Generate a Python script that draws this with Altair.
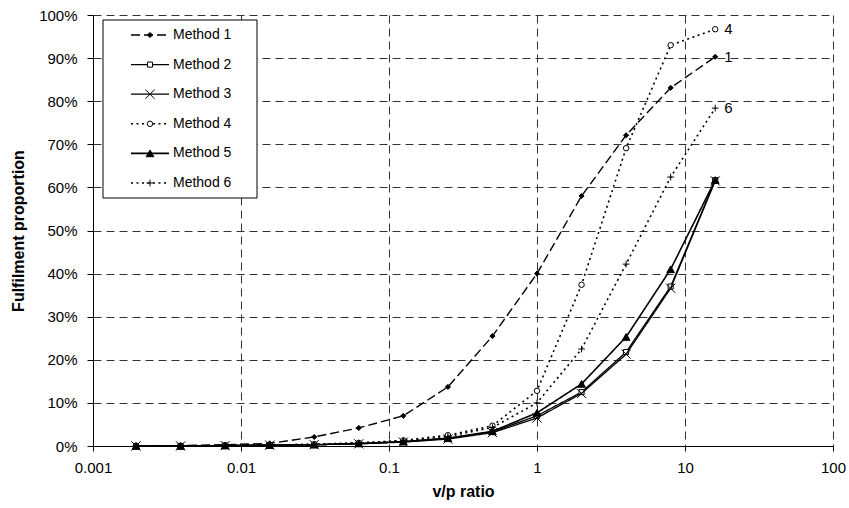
import altair as alt
import pandas as pd

# v/p ratios (powers of two from 1/512 up to 16)
ratios = [1/512, 1/256, 1/128, 1/64, 1/32, 1/16, 1/8, 1/4, 1/2, 1, 2, 4, 8, 16]

method_names = ["Method 1", "Method 2", "Method 3", "Method 4", "Method 5", "Method 6"]

# fulfilment proportion per method, one value per ratio
m1 = [0.000, 0.001, 0.003, 0.006, 0.021, 0.042, 0.070, 0.137, 0.255, 0.400, 0.580, 0.721, 0.831, 0.903]
m2 = [0.000, 0.000, 0.001, 0.002, 0.003, 0.005, 0.010, 0.018, 0.033, 0.070, 0.125, 0.218, 0.370, 0.617]
m3 = [0.000, 0.000, 0.001, 0.002, 0.003, 0.005, 0.009, 0.016, 0.031, 0.065, 0.122, 0.213, 0.366, 0.615]
m4 = [0.000, 0.000, 0.001, 0.002, 0.004, 0.007, 0.013, 0.025, 0.047, 0.128, 0.374, 0.691, 0.930, 0.967]
m5 = [0.000, 0.000, 0.001, 0.002, 0.003, 0.006, 0.010, 0.018, 0.034, 0.077, 0.144, 0.253, 0.410, 0.617]
m6 = [0.000, 0.000, 0.001, 0.002, 0.004, 0.007, 0.012, 0.022, 0.043, 0.100, 0.225, 0.422, 0.624, 0.784]
series = [m1, m2, m3, m4, m5, m6]

# short labels written next to the last point of some series
end_labels = {"Method 1": "1", "Method 4": "4", "Method 6": "6"}

x_ticks = [0.001, 0.01, 0.1, 1, 10, 100]
y_ticks = [i / 10 for i in range(11)]

FONT = "Liberation Sans"

PLUS = "M-1,0L1,0M0,-1L0,1"
CROSS = "M-1,-1L1,1M-1,1L1,-1"

# line and marker style per method
styles = {
    "Method 1": dict(dash=[9, 4], width=1.4, shape="diamond", size=26, fill="black"),
    "Method 2": dict(dash=[1, 0], width=1.3, shape="square", size=26, fill="white"),
    "Method 3": dict(dash=[1, 0], width=1.3, shape=CROSS, size=85, fill=None),
    "Method 4": dict(dash=[2, 3.5], width=1.6, shape="circle", size=30, fill="white"),
    "Method 5": dict(dash=[1, 0], width=1.6, shape="triangle-up", size=60, fill="black"),
    "Method 6": dict(dash=[2, 3.5], width=1.6, shape=PLUS, size=45, fill=None),
}

rows = []
for name, vals in zip(method_names, series):
    for r, v in zip(ratios, vals):
        rows.append({"method": name, "ratio": r, "value": v})
df = pd.DataFrame(rows)

x_enc = alt.X(
    "ratio:Q",
    scale=alt.Scale(type="log", domain=[0.001, 100]),
    axis=alt.Axis(values=x_ticks, format=".3~f", title="v/p ratio", labelFlush=False),
)
y_enc = alt.Y(
    "value:Q",
    scale=alt.Scale(domain=[0, 1]),
    axis=alt.Axis(values=y_ticks, format=".0%", title="Fulfilment proportion", labelFlush=False),
)


def point_props(st):
    if st["fill"] is None:
        return dict(shape=st["shape"], size=st["size"], filled=False,
                    stroke="black", strokeWidth=1, opacity=1)
    return dict(shape=st["shape"], size=st["size"], filled=True,
                fill=st["fill"], stroke="black", strokeWidth=1, opacity=1)


layers = []
for name in method_names:
    st = styles[name]
    base = alt.Chart(df).transform_filter(alt.datum.method == name)
    layers.append(base.mark_line(color="black", strokeDash=st["dash"], strokeWidth=st["width"])
                  .encode(x=x_enc, y=y_enc))
    layers.append(base.mark_point(**point_props(st)).encode(x=x_enc, y=y_enc))

# numbers at the right-hand end of selected series
end_df = df[df["ratio"] == ratios[-1]].copy()
end_df = end_df[end_df["method"].isin(end_labels)]
end_df["label"] = end_df["method"].map(end_labels)
layers.append(
    alt.Chart(end_df).mark_text(align="left", dx=9, font=FONT, fontSize=15, color="black")
    .encode(x=alt.X("ratio:Q"), y=alt.Y("value:Q"), text="label:N")
)

# legend box drawn in pixel space inside the plot
leg_df = pd.DataFrame({"method": method_names, "idx": list(range(len(method_names)))})
leg_base = alt.Chart(leg_df).transform_calculate(
    ly="20 + 29.6 * datum.idx", lx1="38", lx2="76", mx="57", tx="80"
)
layers.append(
    alt.Chart(pd.DataFrame({"k": [0]})).mark_rect(fill="white", stroke="black", strokeWidth=1)
    .encode(x=alt.value(10), x2=alt.value(164), y=alt.value(5), y2=alt.value(183))
)
for name in method_names:
    st = styles[name]
    lb = leg_base.transform_filter(alt.datum.method == name)
    layers.append(
        lb.mark_rule(color="black", strokeDash=st["dash"], strokeWidth=st["width"]).encode(
            x=alt.X("lx1:Q", scale=None, axis=None),
            x2="lx2:Q",
            y=alt.Y("ly:Q", scale=None, axis=None),
        )
    )
    layers.append(
        lb.mark_point(**point_props(st)).encode(
            x=alt.X("mx:Q", scale=None, axis=None),
            y=alt.Y("ly:Q", scale=None, axis=None),
        )
    )
layers.append(
    leg_base.mark_text(align="left", baseline="middle", font=FONT, fontSize=14, color="black").encode(
        x=alt.X("tx:Q", scale=None, axis=None),
        y=alt.Y("ly:Q", scale=None, axis=None),
        text="method:N",
    )
)

chart = (
    alt.layer(*layers)
    .properties(
        width=740,
        height=431,
        autosize=alt.AutoSizeParams(type="none"),
        padding={"left": 93, "top": 15, "right": 16, "bottom": 62},
        background="white",
    )
    .configure_view(stroke=None)
    .configure_axis(
        labelFont=FONT,
        titleFont=FONT,
        labelFontSize=15,
        titleFontSize=16,
        titleFontWeight="bold",
        labelColor="black",
        titleColor="black",
        domainColor="black",
        tickColor="black",
        grid=True,
        gridColor="#333333",
        gridDash=[8, 5],
        gridWidth=1,
        gridOpacity=1,
        domainWidth=1,
    )
    .configure_axisX(tickSize=5, labelPadding=9, titlePadding=8)
    .configure_axisY(tickSize=6, labelPadding=10, titlePadding=12)
)

chart.save("out.html", embed_options={"renderer": "svg", "actions": False})
